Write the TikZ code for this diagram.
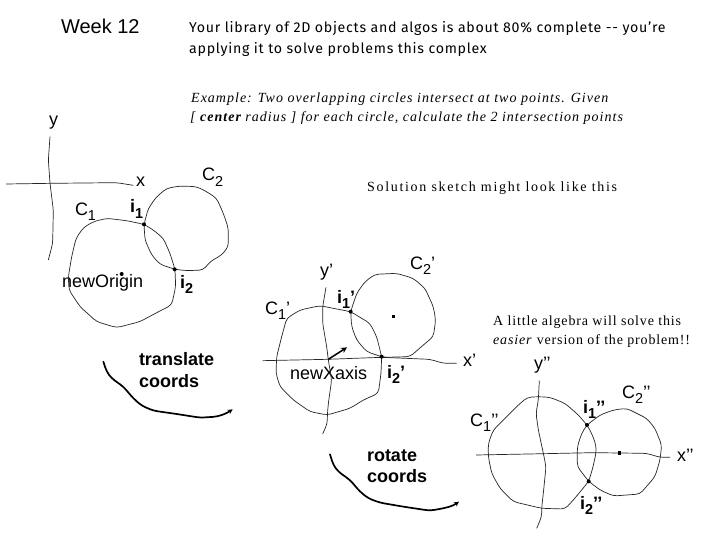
\documentclass[tikz,border=0pt]{standalone}
\usepackage{fontspec}
\usetikzlibrary{arrows.meta}
\setmainfont{Liberation Sans}
\newfontfamily\handfont[LetterSpace=5]{Fira Sans}
\newfontfamily\romfont[LetterSpace=6]{Liberation Serif}
\newfontfamily\romitfont[LetterSpace=7.2]{Liberation Serif}
\newfontfamily\romwidefont[LetterSpace=12]{Liberation Serif}
\newcommand{\lowsub}[1]{\raisebox{-0.3em}{\scalebox{0.8}{#1}}}
\tikzset{
  lab/.style={anchor=base west,inner sep=0pt,outer sep=0pt,font=\fontsize{18}{20}\selectfont},
  blab/.style={lab,font=\fontsize{18}{20}\selectfont\bfseries},
  hand/.style={anchor=base west,inner sep=0pt,font=\fontsize{14.2}{17}\selectfont\handfont},
  rom/.style={anchor=base west,inner sep=0pt,font=\fontsize{14}{17}\selectfont\romfont},
  sk/.style={line width=0.7pt,line join=round,black!85,rounded corners=4pt},
  stroke/.style={line width=1.7pt,line join=round,line cap=round,rounded corners=4pt,-{Stealth[length=5pt,width=5pt]}},
  ptdot/.style={fill=black,inner sep=0pt,minimum size=4pt,circle}
}
\begin{document}
\begin{tikzpicture}[x=1pt,y=-1pt]
\useasboundingbox (0,0) rectangle (720,540);
\fill[white] (0,0) rectangle (720,540);
% texts
\node[lab,font=\fontsize{20}{22}\selectfont] (wk) at (61,34) {Week 12};
\node[hand] (t1) at (189,33) {Your library of 2D objects and algos is about 80\% complete -- you’re};
\node[hand] (t2) at (189,54) {applying it to solve problems this complex};
\node[rom] (e1) at (191,103) {\romitfont\itshape Example: Two overlapping circles intersect at two points.  Given};
\node[rom] (e2) at (190,122) {\romitfont\itshape [ \textbf{center} radius ] for each circle, calculate the 2 intersection points};
\node[rom] (s1) at (367,192) {\romwidefont Solution sketch might look like this};
\node[rom] (a1) at (493,325) {A little algebra will solve this};
\node[rom] (a2) at (493,344) {\textit{easier} version of the problem!!};
\node[lab] (ly) at (49,126) {y};
\node[lab] (lx) at (136,187) {x};
\node[lab] (lc2) at (202,181) {C\lowsub{2}};
\node[lab] (lc1) at (75,215) {C\lowsub{1}};
\node[blab] (li1) at (130,213) {i\lowsub{1}};
\node[lab] (lno) at (62,287) {newOrigin};
\node[blab] (li2) at (180,288) {i\lowsub{2}};
\node[lab] (lyp) at (320,276) {y’};
\node[lab] (lc2p) at (410,269) {C\lowsub{2}’};
\node[lab] (lc1p) at (265,314) {C\lowsub{1}’};
\node[blab] (li1p) at (337,303) {i\lowsub{1}’};
\node[lab] (lxa) at (290,379) {newXaxis};
\node[blab] (li2p) at (387,378) {i\lowsub{2}’};
\node[lab] (lxp) at (463,366) {x’};
\node[blab] (ltr1) at (139,365) {translate};
\node[blab] (ltr2) at (139,387) {coords};
\node[blab] (lro1) at (367,461) {rotate};
\node[blab] (lro2) at (367,482) {coords};
\node[lab] (lypp) at (534,369) {y’’};
\node[lab] (lc2pp) at (622,398) {C\lowsub{2}’’};
\node[lab] (lc1pp) at (470,426) {C\lowsub{1}’’};
\node[blab] (li1pp) at (583,413) {i\lowsub{1}’’};
\node[blab] (li2pp) at (580,509) {i\lowsub{2}’’};
\node[lab] (lxpp) at (677,461) {x’’};
% first sketch
\begin{scope}[shift={(0,130)},x=0.33333pt,y=-0.33333pt]
\draw[sk] (150,20)--(145,90)--(150,160)--(160,240)--(158,340)--(145,390);
\draw[sk] (18,162)--(150,160)--(350,158)--(400,166);
\draw[sk] (432,283)--(380,272)--(320,265)--(280,275)--(250,293)--(228,325)--(215,380)--(205,440)--(207,480)--(240,530)--(290,575)--(350,593)--(420,575)--(470,548)--(515,525)--(527,470)--(525,418)--(510,370)--(490,325)--(460,300)--cycle;
\draw[sk] (432,283)--(445,235)--(470,200)--(500,175)--(540,168)--(590,170)--(620,185)--(650,205)--(670,250)--(685,295)--(685,350)--(665,375)--(630,395)--(610,420)--(560,422)--(525,418)--(480,403)--(455,375)--(435,330)--cycle;
\node[ptdot] (d1) at (432,283) {};
\node[ptdot] (d2) at (524,418) {};
\node[ptdot] (d3) at (365,432) {};
\end{scope}
% second sketch
\begin{scope}[shift={(250,240)},x=0.33333pt,y=-0.33333pt]
\draw[sk] (228,142)--(218,200)--(218,250)--(230,320)--(235,360)--(245,420)--(235,490)--(232,525)--(232,550)--(218,582);
\draw[sk] (38,362)--(230,358)--(395,352)--(540,358)--(580,370)--(620,370);
\draw[sk] (302,215)--(250,205)--(210,197)--(150,210)--(110,235)--(95,290)--(80,350)--(78,400)--(90,440)--(130,480)--(180,515)--(232,525)--(300,505)--(340,480)--(385,460)--(393,400)--(395,350)--(380,290)--(360,250)--cycle;
\draw[sk] (302,215)--(320,160)--(345,125)--(375,103)--(440,100)--(490,115)--(525,145)--(550,200)--(557,240)--(550,290)--(520,315)--(480,350)--(400,352)--(350,335)--(320,300)--(305,260)--cycle;
\coordinate (as) at (235,358);
\coordinate (ae) at (291,322);
\draw[line width=1.5pt,-{Stealth[length=6pt,width=6pt]}] (as)--(ae);
\node[ptdot] (d4) at (302,215) {};
\node[ptdot] (d5) at (395,350) {};
\node[fill=black,inner sep=0pt,minimum size=3.5pt] (d6) at (430,229) {};
\end{scope}
% third sketch
\begin{scope}[shift={(450,340)},x=0.33333pt,y=-0.33333pt]
\draw[sk] (268,122)--(265,180)--(258,220)--(265,270)--(280,340)--(288,380)--(282,440)--(275,505)--(275,530)--(260,565);
\draw[sk] (78,345)--(235,342)--(430,338)--(590,340)--(630,352)--(660,352);
\draw[sk] (411,255)--(385,225)--(345,190)--(300,172)--(265,170)--(232,172)--(205,195)--(165,235)--(130,270)--(115,310)--(115,350)--(125,400)--(150,445)--(190,485)--(275,505)--(345,507)--(370,480)--(395,450)--(416,424)--(428,385)--(438,340)--(438,315)--(425,280)--cycle;
\draw[sk] (411,255)--(450,225)--(490,210)--(530,205)--(590,235)--(615,265)--(635,315)--(630,360)--(615,410)--(570,462)--(490,468)--(450,450)--(416,424)--(382,380)--(382,320)--(395,280)--cycle;
\node[ptdot] (d7) at (411,255) {};
\node[ptdot] (d8) at (416,424) {};
\node[fill=black,inner sep=0pt,minimum size=3.5pt] (d9) at (508,339) {};
\end{scope}
% hand arrows
\begin{scope}[shift={(90,340)},x=0.33333pt,y=-0.33333pt]
\draw[stroke] (40,65)--(50,95)--(65,115)--(100,140)--(130,175)--(155,197)--(190,212)--(260,222)--(330,233)--(380,230)--(410,220)--(428,208);
\draw[stroke] (720,343)--(730,375)--(745,395)--(780,420)--(810,455)--(835,475)--(870,488)--(940,500)--(1020,512)--(1060,505)--(1090,497)--(1107,485);
\end{scope}
\end{tikzpicture}
\end{document}
